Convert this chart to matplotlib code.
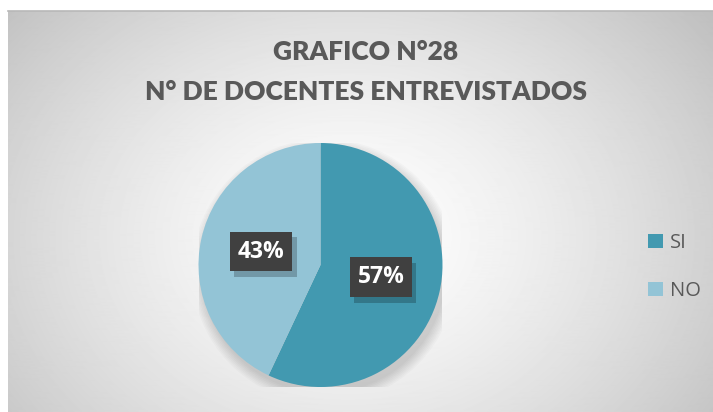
import numpy as np
import matplotlib
matplotlib.use('Agg')
import matplotlib.pyplot as plt
import matplotlib.patheffects as pe

# Datos del grafico
categorias = ['SI', 'NO']
porcentajes = [57, 43]
colores = ['#4299B0', '#93C4D6']
titulo = 'GRAFICO N°28\nN° DE DOCENTES ENTREVISTADOS'

W, H = 713, 412
fig = plt.figure(figsize=(W / 100, H / 100), dpi=100)
fig.patch.set_facecolor('white')

# Fondo con degradado radial
bg = fig.add_axes([8 / W, 0, 1 - 8 / W, 1 - 11 / H])
yy, xx = np.mgrid[0:400, 0:705]
d = np.sqrt(((xx - 340) / 420.0) ** 2 + ((yy - 225) / 330.0) ** 2)
grad = 1.0 - 0.22 * np.clip(d, 0, 1.2) ** 1.4
bg.imshow(grad, cmap='gray', vmin=0, vmax=1, aspect='auto', interpolation='bilinear')
bg.axis('off')
fig.add_artist(plt.Line2D([8 / W, 1], [1 - 11 / H, 1 - 11 / H], color='#B8B8B8', lw=1.2))

# Titulo
fig.text(366 / W, 1 - 72 / H, titulo, ha='center', va='center', fontsize=19,
         fontweight='heavy', color='#595959', family='Lato', linespacing=1.75)

# Grafico circular
r = 122
cx, cy = 320.5, 265
ax = fig.add_axes([(cx - r) / W, 1 - (cy + r) / H, 2 * r / W, 2 * r / H])

# sombra suave
for k in range(8):
    ax.add_patch(plt.Circle((0.03, -0.05), 1.0 + 0.012 * k, color='black',
                            alpha=0.018, lw=0, zorder=0))

wedges, _ = ax.pie(porcentajes, colors=colores, startangle=90, counterclock=False,
                   radius=1.0, wedgeprops=dict(linewidth=0))
ax.set_xlim(-1, 1)
ax.set_ylim(-1, 1)
ax.set_aspect('equal')
ax.axis('off')

# Etiquetas de porcentaje
pos_etiquetas = [(0.495, -0.1), (-0.485, 0.11)]
for p, (px, py) in zip(porcentajes, pos_etiquetas):
    t = ax.text(px, py, f'{p}%', ha='center', va='center', fontsize=16.5,
                fontweight='bold', color='white', family='Open Sans', zorder=5,
                bbox=dict(boxstyle='square,pad=0.34', facecolor='#404040', lw=0))
    t.get_bbox_patch().set_path_effects(
        [pe.SimplePatchShadow(offset=(3, -4), shadow_rgbFace='black', alpha=0.22), pe.Normal()])

# Leyenda
leg = fig.legend(wedges, categorias, loc='center left',
                 bbox_to_anchor=(630 / W, 1 - 267 / H), frameon=False,
                 handlelength=0.72, handleheight=0.72, handletextpad=0.35,
                 labelspacing=1.4, prop={'family': 'Open Sans', 'size': 14.5})
for t in leg.get_texts():
    t.set_color('#595959')

fig.savefig('out.png', dpi=100)
